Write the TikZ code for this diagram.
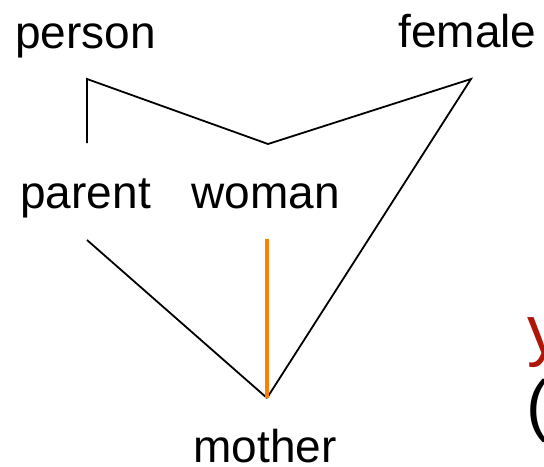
\documentclass[tikz,border=0pt]{standalone}
\usepackage{fontspec}
\setmainfont{Liberation Sans}
\usepackage{xcolor}
\usetikzlibrary{positioning}
\definecolor{isaorange}{RGB}{255,128,0}
\definecolor{darkred}{RGB}{175,22,8}

\begin{document}
\begin{tikzpicture}[
    x=0.5pt, y=-0.5pt,
    word/.style={anchor=base west, inner sep=0pt, font=\fontsize{23}{27}\selectfont},
    big word/.style={anchor=base west, inner sep=0pt, font=\fontsize{34}{40}\selectfont},
    link/.style={draw=black, line width=0.9pt},
    isa/.style={draw=isaorange, line width=2.4pt}
]
    \useasboundingbox (0,0) rectangle (544,466);
    \clip (0,0) rectangle (544,466);

    \foreach \name/\x/\y in {person/15/48, female/398/47, parent/20/208, woman/191/208, mother/193/462}
      \node[word] (\name) at (\x,\y) {\name};
    \node[big word, text=darkred] (you) at (527,353) {y};
    \node[big word] (paren) at (526,428) {(};

    \foreach \c/\x/\y in {person-c/87/79, parent-c/87/143, woman-c/268/144, female-c/471/79,
                          parent-d/87/240, woman-d/267/239, mother-c/267/398}
      \coordinate (\c) at (\x,\y);

    \draw[link] (parent-c) -- (person-c) -- (woman-c) -- (female-c) -- (mother-c);
    \draw[link] (parent-d) -- (mother-c);
    \draw[isa] (woman-d) -- (mother-c);
\end{tikzpicture}
\end{document}
